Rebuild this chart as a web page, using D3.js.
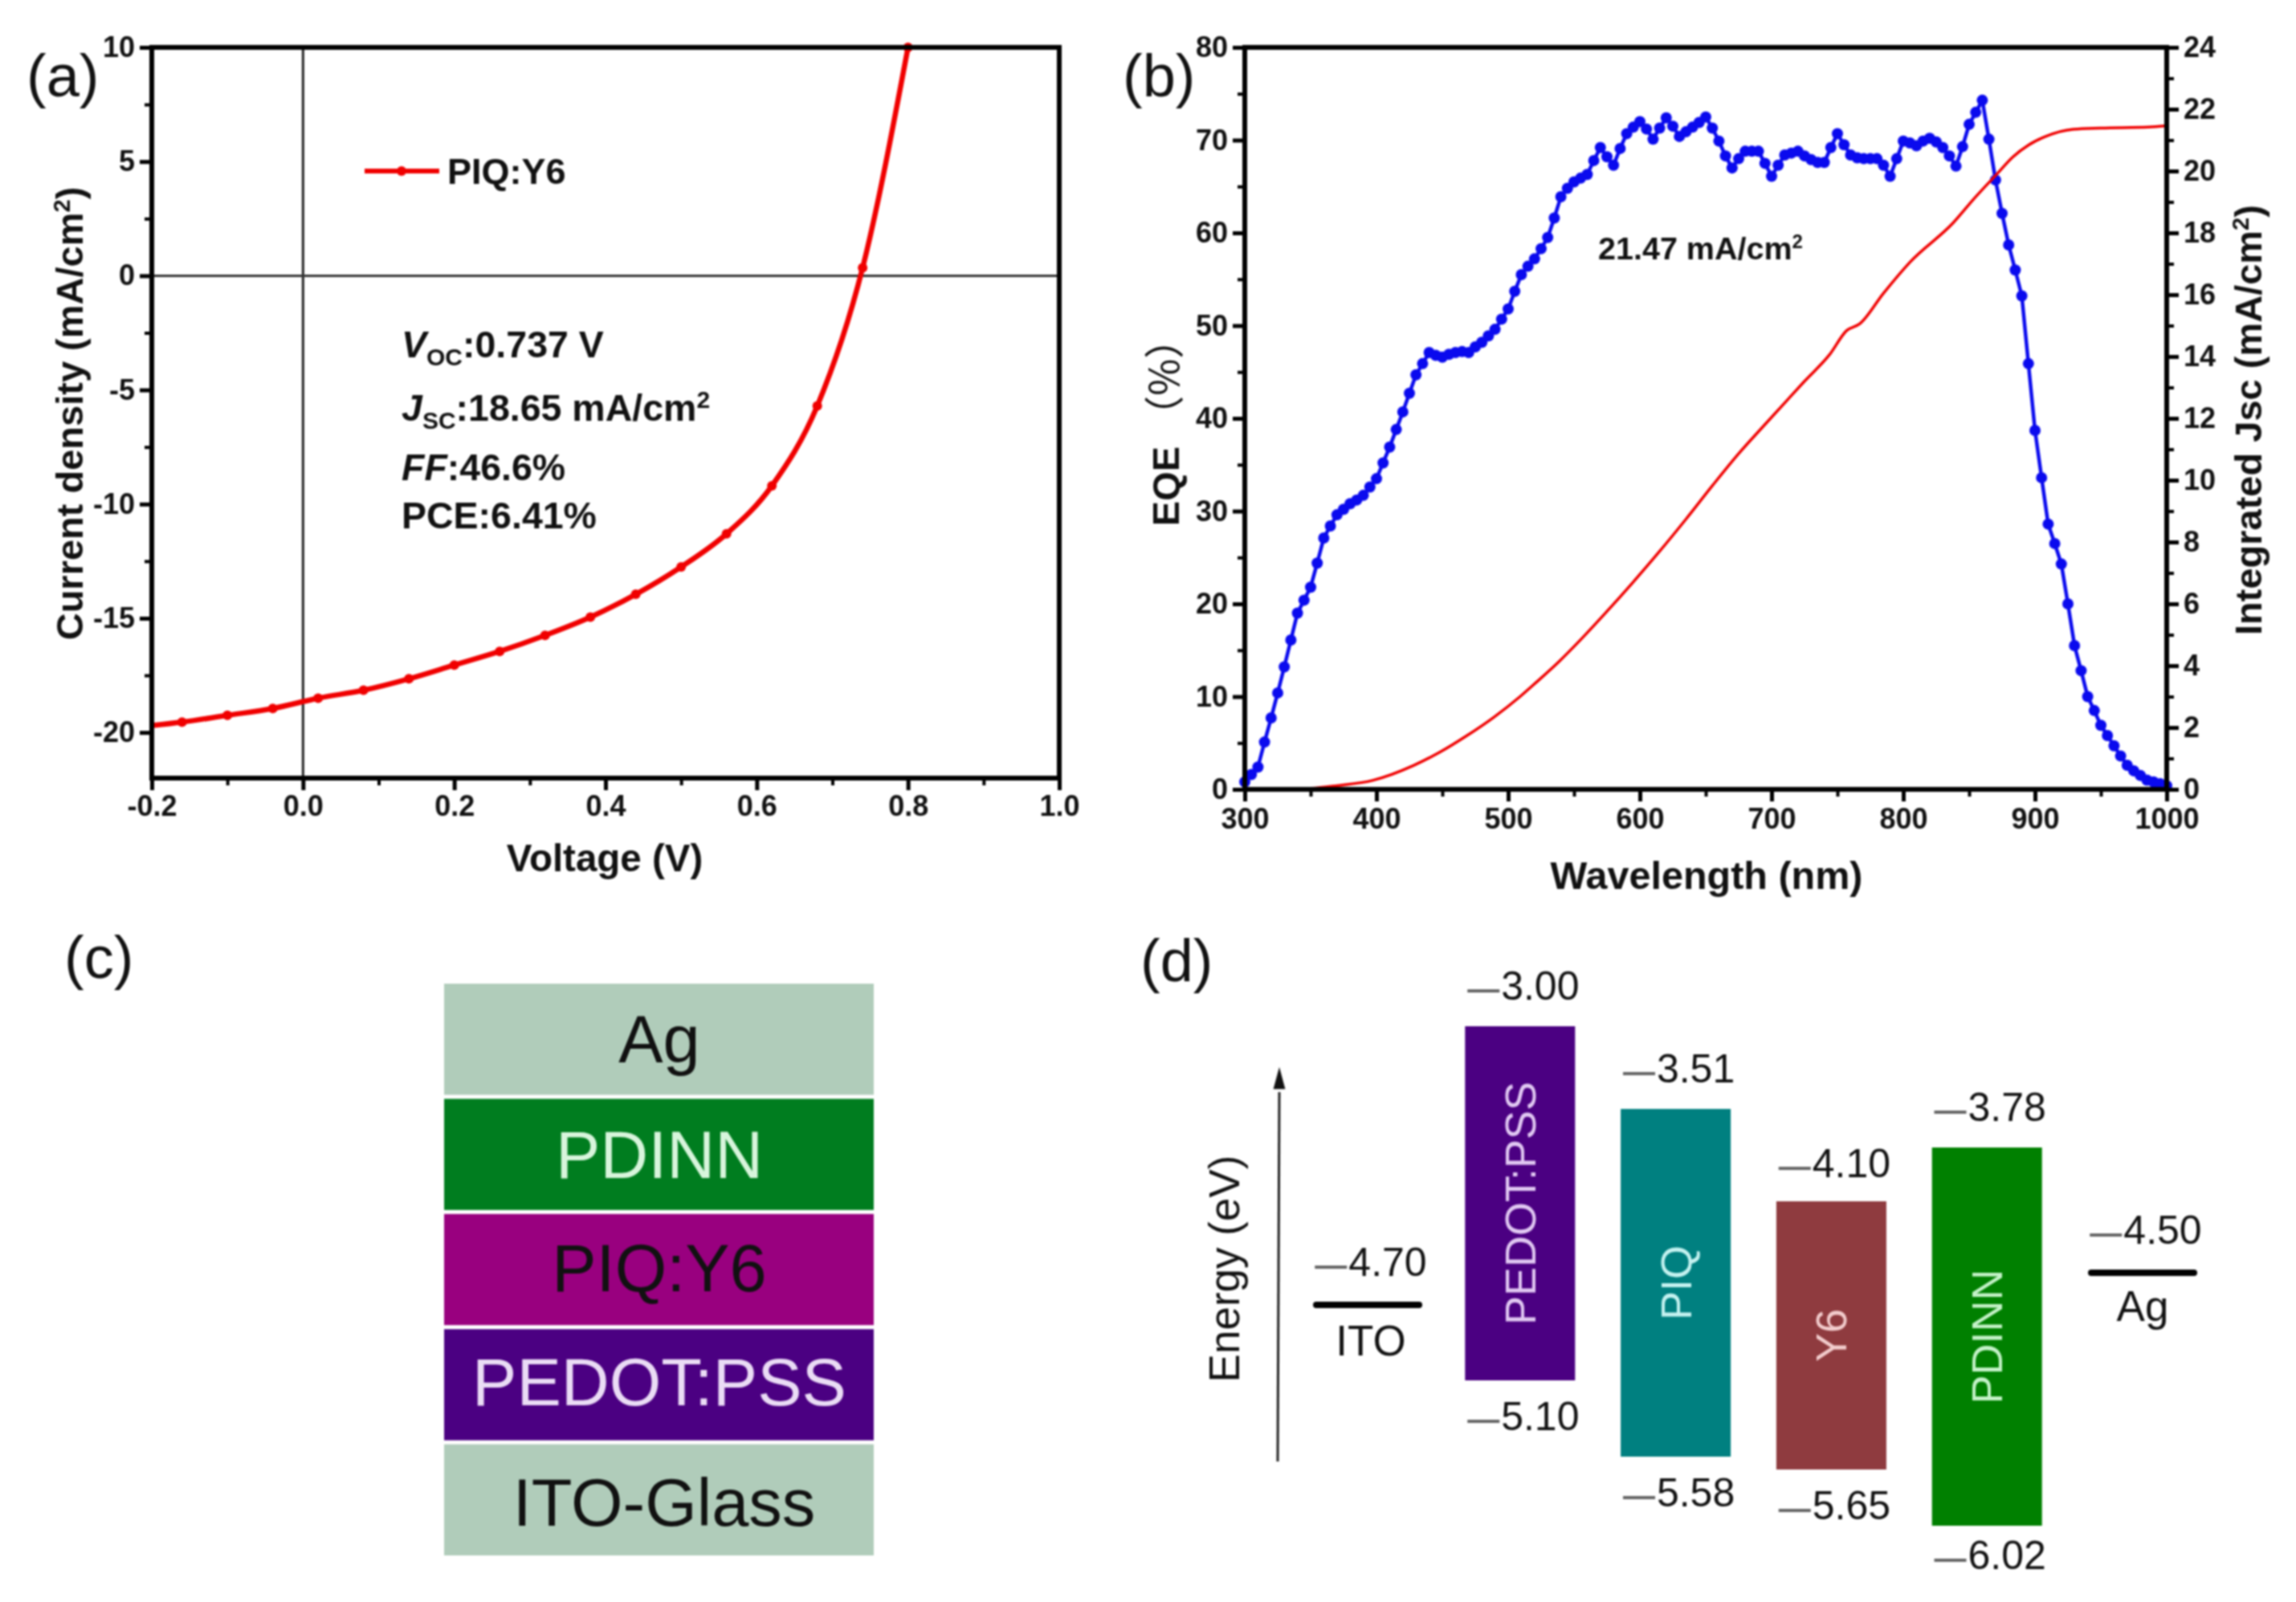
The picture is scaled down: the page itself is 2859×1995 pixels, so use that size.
<!DOCTYPE html>
<html>
<head>
<meta charset="utf-8">
<script src="https://cdn.jsdelivr.net/npm/d3@7/dist/d3.min.js"></script>
<style>
  body { margin: 0; background: #fff; }
  svg { filter: blur(0.9px); }
  text { font-family: "Liberation Sans", Arial, sans-serif; fill: #111; }
  .tick text { font-weight: bold; }
</style>
</head>
<body>
<svg width="2859" height="1995"></svg>
<script>
// (a) J-V curve, the markers sit every 0.06 V
const jvVoltage = [-0.2, -0.16, -0.1, -0.04, 0.02, 0.08, 0.14, 0.2, 0.26, 0.32, 0.38, 0.44, 0.5, 0.56, 0.62, 0.68, 0.74, 0.8];
const jvCurrent = [-19.7, -19.55, -19.25, -18.95, -18.5, -18.15, -17.65, -17.05, -16.45, -15.75, -14.95, -13.95, -12.75, -11.3, -9.2, -5.7, 0.35, 10];

// (b) EQE every 5 nm
const eqeStart = 300, eqeStep = 5;
const eqeValues = [
  0.8, 1.6, 2.4, 5.1, 7.7, 10.4, 13.2, 16.1, 19.0, 20.4, 21.8, 24.4, 27.1, 28.4, 29.6, 30.2, 30.8, 31.2, 31.7, 32.6,
  33.5, 35.2, 36.9, 38.8, 40.7, 42.7, 44.7, 45.9, 47.1, 46.8, 46.6, 46.9, 47.1, 47.2, 47.1, 47.7, 48.2, 48.9, 49.6, 50.7,
  51.8, 53.7, 55.5, 56.4, 57.2, 58.3, 59.5, 61.6, 63.9, 64.8, 65.5, 65.9, 66.3, 67.8, 69.2, 68.2, 67.3, 69.1, 70.7, 71.4,
  72.0, 71.2, 70.1, 71.3, 72.4, 71.5, 70.4, 70.9, 71.4, 71.9, 72.5, 71.3, 69.9, 68.3, 67.0, 68.0, 68.8, 68.8, 68.8, 67.5,
  66.1, 67.3, 68.4, 68.6, 68.8, 68.3, 67.9, 67.6, 67.6, 69.2, 70.7, 69.5, 68.4, 68.1, 68.0, 68.0, 68.0, 67.3, 66.1, 68.0,
  69.9, 69.7, 69.4, 69.9, 70.2, 69.8, 69.2, 68.3, 67.2, 69.3, 71.7, 73.0, 74.3, 70.1, 65.7, 62.1, 58.7, 56.0, 53.2, 45.9,
  38.7, 33.6, 28.6, 26.5, 24.3, 20.0, 15.5, 12.8, 10.0, 8.5, 6.9, 5.8, 4.7, 3.6, 2.6, 2.0, 1.5, 1.0, 0.8, 0.6, 0.4
];
const jscWave = [323, 350, 370, 397, 428, 448, 468, 489, 509, 521, 539, 555, 574, 594, 614, 635, 655, 675, 696, 711, 725, 744, 757, 767, 785, 805, 838, 854, 871, 883, 895, 907, 929, 950, 986, 999];
const jscValues = [0, 0.03, 0.12, 0.29, 0.77, 1.2, 1.72, 2.33, 3.0, 3.45, 4.15, 4.84, 5.71, 6.66, 7.65, 8.74, 9.82, 10.86, 11.85, 12.55, 13.2, 14.06, 14.84, 15.06, 16.05, 17.05, 18.33, 19.12, 19.9, 20.45, 20.84, 21.1, 21.35, 21.39, 21.42, 21.46];

// (c) device stack
const stackLayers = ["Ag", "PDINN", "PIQ:Y6", "PEDOT:PSS", "ITO-Glass"];
const stackFill = ["#b0ccba", "#007d1f", "#99007f", "#4b0082", "#b0ccba"];
const stackText = ["#111", "#d8f5dc", "#111", "#eadcf5", "#111"];
const stackNudgeX = [0, 0, 0, 0, 6];
const stackNudgeY = [0, 0, -2, -3, 3];

// (d) energy levels
const levelNames = ["ITO", "PEDOT:PSS", "PIQ", "Y6", "PDINN", "Ag"];
const bandNames = ["PEDOT:PSS", "PIQ", "Y6", "PDINN"];
const bandTop = [3.00, 3.51, 4.10, 3.78];
const bandBottom = [5.10, 5.58, 5.65, 6.02];
const bandFill = ["#4b0082", "#008080", "#8f3b3f", "#008000"];
const bandText = ["#e0c8f2", "#c4f2f0", "#f2cccc", "#c4f2c8"];
const metalNames = ["ITO", "Ag"];
const metalLevel = [4.70, 4.50];

const svg = d3.select("svg");

function frame(x, y) {
  const [x0, x1] = x.range(), [y1, y0] = y.range();
  svg.append("rect").attr("x", x0).attr("y", y0).attr("width", x1 - x0).attr("height", y1 - y0)
    .attr("fill", "none").attr("stroke", "#000").attr("stroke-width", 6);
}

// major ticks labelled, minor ones shorter and blank
function ticks(axisFn, scale, step, transform, fmt, pad = 6) {
  const [a, b] = scale.domain().slice().sort(d3.ascending);
  const multiples = s => d3.range(Math.ceil(a / s - 1e-6), Math.floor(b / s + 1e-6) + 1);
  const major = multiples(step).map(k => k * step);
  const minor = multiples(step / 2).filter(k => k % 2 != 0).map(k => k * step / 2);
  svg.append("g").attr("transform", transform)
    .call(axisFn(scale).tickValues(minor).tickSize(9).tickFormat(""))
    .call(g => { g.select(".domain").remove(); g.selectAll("text").remove(); })
    .selectAll("line").attr("stroke-width", 4);
  const g = svg.append("g").attr("transform", transform)
    .call(axisFn(scale).tickValues(major).tickSize(15).tickPadding(pad).tickFormat(fmt));
  g.select(".domain").remove();
  g.selectAll("line").attr("stroke-width", 5);
  g.selectAll("text").attr("font-size", 36).attr("font-family", "Liberation Sans");
}

function rotated(x, y) {
  return svg.append("text").attr("transform", `translate(${x},${y}) rotate(-90)`).attr("text-anchor", "middle");
}

function sup(t, s) {
  t.append("tspan").attr("dy", -16).attr("font-size", "62%").text(s);
  t.append("tspan").attr("dy", 16).text(")");
}

function panelLabel(s, x, y) {
  svg.append("text").attr("x", x).attr("y", y).attr("font-size", 74).attr("fill", "#1a1a1a").text(s);
}

// ---- (a)
const xa = d3.scaleLinear().domain([-0.2, 1.0]).range([189, 1319]);
const ya = d3.scaleLinear().domain([-22, 10]).range([969, 59]);
const jvPoints = jvVoltage.map((v, i) => [v, jvCurrent[i]]);

svg.append("line").attr("x1", xa(0)).attr("x2", xa(0)).attr("y1", ya(-22)).attr("y2", ya(10)).attr("stroke", "#222").attr("stroke-width", 3);
svg.append("line").attr("x1", xa(-0.2)).attr("x2", xa(1)).attr("y1", ya(0)).attr("y2", ya(0)).attr("stroke", "#333").attr("stroke-width", 3);

svg.append("path").datum(jvPoints)
  .attr("d", d3.line().x(d => xa(d[0])).y(d => ya(d[1])).curve(d3.curveMonotoneX))
  .attr("fill", "none").attr("stroke", "#f00000").attr("stroke-width", 6.5);
svg.selectAll(".jv").data(jvPoints.slice(1)).enter().append("circle").attr("class", "jv")
  .attr("cx", d => xa(d[0])).attr("cy", d => ya(d[1])).attr("r", 6).attr("fill", "#f00000");

ticks(d3.axisLeft, ya, 5, "translate(189,0)", d => d);
ticks(d3.axisBottom, xa, 0.2, "translate(0,969)", d => d3.format(".1f")(d).replace("−", "-"));
frame(xa, ya);

// legend
svg.append("line").attr("x1", 454).attr("x2", 547).attr("y1", 213).attr("y2", 213).attr("stroke", "#f00000").attr("stroke-width", 6);
svg.append("circle").attr("cx", 500).attr("cy", 213).attr("r", 6).attr("fill", "#f00000");
svg.append("text").attr("x", 557).attr("y", 229).attr("font-size", 45).attr("font-weight", "bold").text("PIQ:Y6");

const voc = svg.append("text").attr("x", 500).attr("y", 445).attr("font-size", 46.5).attr("font-weight", "bold");
voc.append("tspan").attr("font-style", "italic").text("V");
voc.append("tspan").attr("dy", 10).attr("font-size", 30).text("OC");
voc.append("tspan").attr("dy", -10).text(":0.737 V");
const jsc = svg.append("text").attr("x", 500).attr("y", 524).attr("font-size", 46.5).attr("font-weight", "bold");
jsc.append("tspan").attr("font-style", "italic").text("J");
jsc.append("tspan").attr("dy", 10).attr("font-size", 30).text("SC");
jsc.append("tspan").attr("dy", -10).text(":18.65 mA/cm");
jsc.append("tspan").attr("dy", -16).attr("font-size", 30).text("2");
const ff = svg.append("text").attr("x", 500).attr("y", 598).attr("font-size", 46.5).attr("font-weight", "bold");
ff.append("tspan").attr("font-style", "italic").text("FF");
ff.append("tspan").text(":46.6%");
svg.append("text").attr("x", 500).attr("y", 658).attr("font-size", 46.5).attr("font-weight", "bold").text("PCE:6.41%");

const ta = rotated(103, 515).attr("font-size", 47).attr("font-weight", "bold").text("Current density (mA/cm");
sup(ta, "2");
svg.append("text").attr("x", 753).attr("y", 1085).attr("text-anchor", "middle").attr("font-size", 47.5).attr("font-weight", "bold").text("Voltage (V)");
panelLabel("(a)", 33, 120);

// ---- (b)
const xb = d3.scaleLinear().domain([300, 1000]).range([1550, 2698]);
const yb = d3.scaleLinear().domain([0, 80]).range([983, 59]);
const yr = d3.scaleLinear().domain([0, 24]).range([983, 59]);
const eqePoints = eqeValues.map((v, i) => [eqeStart + i * eqeStep, v]);

svg.append("path").datum(eqePoints)
  .attr("d", d3.line().x(d => xb(d[0])).y(d => yb(d[1])))
  .attr("fill", "none").attr("stroke", "#0a0aee").attr("stroke-width", 4.5);
svg.selectAll(".eqe").data(eqePoints).enter().append("circle").attr("class", "eqe")
  .attr("cx", d => xb(d[0])).attr("cy", d => yb(d[1])).attr("r", 7).attr("fill", "#0a0aee");
svg.append("path").datum(jscWave.map((w, i) => [w, jscValues[i]]))
  .attr("d", d3.line().x(d => xb(d[0])).y(d => yr(d[1])).curve(d3.curveMonotoneX))
  .attr("fill", "none").attr("stroke", "#f00000").attr("stroke-width", 3.5);

ticks(d3.axisLeft, yb, 10, "translate(1550,0)", d => d);
ticks(d3.axisRight, yr, 2, "translate(2698,0)", d => d);
ticks(d3.axisBottom, xb, 100, "translate(0,983)", d => d, 8);
frame(xb, yb);

const tj = svg.append("text").attr("x", 1990).attr("y", 323).attr("font-size", 39.5).attr("font-weight", "bold").text("21.47 mA/cm");
tj.append("tspan").attr("dy", -14).attr("font-size", 24).text("2");

const te = rotated(1468, 526).attr("font-size", 47).attr("font-weight", "bold").text("EQE ");
te.append("tspan").attr("font-family", "Noto Sans CJK SC").attr("font-size", 50).attr("font-weight", "normal").text("（%）");
const tr = rotated(2816, 523).attr("font-size", 47).attr("font-weight", "bold").text("Integrated Jsc (mA/cm");
sup(tr, "2");
svg.append("text").attr("x", 2125).attr("y", 1107).attr("text-anchor", "middle").attr("font-size", 48.5).attr("font-weight", "bold").text("Wavelength (nm)");
panelLabel("(b)", 1398, 120);

// ---- (c)
const ys = d3.scaleBand().domain(stackLayers).range([1225, 1937]).paddingInner(0.035);
svg.selectAll(".layer").data(stackLayers).enter().append("rect").attr("class", "layer")
  .attr("x", 553).attr("width", 535).attr("y", d => ys(d)).attr("height", ys.bandwidth())
  .attr("fill", (d, i) => stackFill[i]);
svg.selectAll(".layerText").data(stackLayers).enter().append("text").attr("class", "layerText")
  .attr("x", (d, i) => 821 + stackNudgeX[i]).attr("y", (d, i) => ys(d) + ys.bandwidth() / 2 + 29 + stackNudgeY[i])
  .attr("text-anchor", "middle").attr("font-size", 83)
  .style("fill", (d, i) => stackText[i]).text(d => d);
panelLabel("(c)", 80, 1218);

// ---- (d)
const xe = d3.scalePoint().domain(levelNames).range([1699, 2668]);
// the drawing is not quite to scale, so the levels are pinned one by one
const ye = d3.scaleLinear()
  .domain([3.00, 3.51, 3.78, 4.10, 4.50, 4.70, 5.10, 5.58, 5.65, 6.02])
  .range([1278, 1381, 1429, 1496, 1585, 1625, 1719, 1814, 1830, 1900]);
const bandW = 137;

svg.selectAll(".band").data(bandNames).enter().append("rect").attr("class", "band")
  .attr("x", d => xe(d) - bandW / 2).attr("width", bandW)
  .attr("y", (d, i) => ye(bandTop[i])).attr("height", (d, i) => ye(bandBottom[i]) - ye(bandTop[i]))
  .attr("fill", (d, i) => bandFill[i]);
bandNames.forEach((d, i) => {
  rotated(xe(d) + 19, (ye(bandTop[i]) + ye(bandBottom[i])) / 2).attr("font-size", 54).style("fill", bandText[i]).text(d);
});

svg.selectAll(".metal").data(metalNames).enter().append("line").attr("class", "metal")
  .attr("x1", (d, i) => xe(d) - 64 + (i == 0 ? 4 : 0)).attr("x2", (d, i) => xe(d) + 64 + (i == 0 ? 4 : 0))
  .attr("y1", (d, i) => ye(metalLevel[i])).attr("y2", (d, i) => ye(metalLevel[i]))
  .attr("stroke", "#000").attr("stroke-width", 8).attr("stroke-linecap", "round");

function levelLabel(name, value, dy, dx = 4) {
  const t = svg.append("text").attr("x", xe(name) + dx).attr("y", ye(value) + dy).attr("text-anchor", "middle").attr("font-size", 50);
  t.append("tspan").style("fill", "#666").attr("font-size", 40).attr("font-weight", "bold").text("—");
  t.append("tspan").attr("dx", 2).text(value.toFixed(2));
}
bandNames.forEach((d, i) => {
  levelLabel(d, bandTop[i], i == 2 ? -30 : -33);
  levelLabel(d, bandBottom[i], i == 3 ? 54 : 62);
});
metalNames.forEach((d, i) => {
  levelLabel(d, metalLevel[i], -36, i == 0 ? 8 : 4);
  svg.append("text").attr("x", xe(d) + (i == 0 ? 8 : 0)).attr("y", ye(metalLevel[i]) + (i == 0 ? 63 : 60)).attr("text-anchor", "middle").attr("font-size", 53).text(d);
});

rotated(1543, 1580).attr("font-size", 53).attr("fill", "#333").text("Energy (eV)");
svg.append("line").attr("x1", 1591).attr("x2", 1593).attr("y1", 1820).attr("y2", 1360).attr("stroke", "#222").attr("stroke-width", 3);
svg.append("path").attr("d", d3.symbol(d3.symbolTriangle, 170)()).attr("transform", "translate(1593,1347) scale(0.75,1.6)").attr("fill", "#111");
panelLabel("(d)", 1420, 1222);
</script>
</body>
</html>
